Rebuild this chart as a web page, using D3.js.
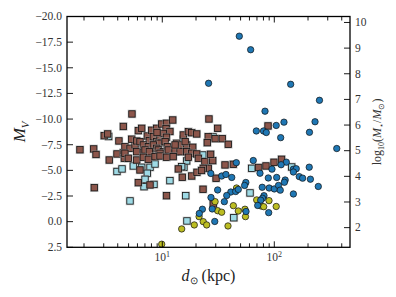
<!DOCTYPE html>
<html>
<head>
<meta charset="utf-8">
<script src="https://cdn.jsdelivr.net/npm/d3@7"></script>
<style>
  html, body { margin: 0; padding: 0; background: #fff; }
  svg { display: block; }
</style>
</head>
<body>
<svg id="chart"></svg>
<script>
// [distance kpc, M_V]
const brownSquares = [
  [1.84,-7.01],[2.44,-7.09],[2.56,-6.55],[2.47,-3.31],[3.03,-8.38],[3.25,-8.55],[3.36,-6.01],[3.94,-6.60],
  [4.10,-7.87],[4.49,-9.28],[4.49,-6.73],[4.58,-6.18],[5.36,-10.50],[4.64,-7.31],[5.15,-7.15],[5.71,-7.48],
  [5.33,-8.04],[5.91,-7.87],[6.11,-8.87],[6.55,-9.10],[7.35,-8.35],[7.66,-7.89],[8.04,-8.91],[8.91,-9.10],
  [8.32,-8.28],[8.91,-7.80],[9.54,-8.13],[9.88,-9.52],[10.9,-9.59],[12.4,-9.91],[10.8,-9.08],[11.7,-8.79],
  [10.2,-8.60],[10.9,-8.23],[9.88,-7.70],[9.21,-7.64],[10.6,-7.80],[13.4,-7.64],[15.4,-8.45],[17.1,-8.77],
  [18.3,-8.67],[20.3,-8.55],[14.9,-7.48],[16.5,-7.48],[16.0,-7.80],[18.7,-7.25],[6.32,-7.80],[6.77,-7.48],
  [7.50,-7.31],[8.32,-7.48],[8.91,-7.15],[9.21,-6.99],[10.2,-6.82],[11.1,-7.31],[11.3,-6.99],[13.0,-6.99],
  [14.4,-6.82],[13.0,-7.48],[4.64,-6.67],[5.91,-6.82],[6.77,-6.76],[7.77,-6.67],[9.54,-6.67],[7.01,-6.99],
  [7.66,-6.82],[4.97,-6.18],[5.91,-6.01],[6.77,-6.28],[7.50,-6.08],[8.61,-6.34],[9.54,-6.40],[10.9,-6.28],
  [16.5,-6.82],[18.3,-6.67],[20.3,-6.60],[17.1,-6.28],[21.0,-6.18],[24.0,-5.85],[28.2,-5.95],[27.0,-6.57],
  [26.1,-10.01],[31.2,-9.10],[25.7,-8.28],[29.6,-8.09],[34.3,-8.09],[25.2,-7.70],[38.8,-7.54],[36.3,-5.53],
  [43.1,-5.59],[25.7,-5.20],[23.2,-5.20],[6.32,-5.04],[13.9,-5.14],[15.1,-4.33],[18.3,-4.45],[20.4,-4.81],
  [22.4,-4.99],[6.11,-3.80],[7.77,-3.58],[10.9,-2.53],[30.2,-4.23],[23.1,-3.16],[28.5,-1.73],[72.3,-5.28],
  [84.3,-5.43],[99.4,-5.79],[116,-6.08],[87.9,-9.33],[12.5,-6.34],[8.97,-8.69]
];

const cyanSquares = [
  [3.32,-8.30],[3.94,-4.89],[4.37,-5.14],[5.51,-5.43],[6.55,-5.30],[7.77,-5.30],[8.61,-5.62],[7.35,-4.72],
  [7.01,-4.13],[8.43,-3.63],[6.87,-3.41],[11.7,-4.00],[15.6,-5.30],[16.5,-5.92],[5.15,-2.02],[16.2,-2.53],
  [16.6,-0.07],[23.0,-6.50],[28.4,-8.26],[14.9,-5.36],[15.4,-8.03],[13.1,-6.82],[62.8,-5.20],[143,-5.33],
  [43.5,-0.38],[60.7,-2.80]
];

const blueCircles = [
  [48.7,-18.08],[61.5,-16.76],[25.9,-13.49],[140,-13.39],[253,-11.83],[82.6,-10.77],[231,-9.74],[69.1,-8.84],
  [80.1,-8.84],[84.8,-8.69],[104,-9.38],[122,-9.70],[206,-8.71],[114,-8.19],[361,-7.13],[64.9,-5.96],
  [45.8,-5.75],[128,-5.80],[115,-5.55],[95.3,-5.12],[74.5,-4.72],[148,-5.11],[157,-5.16],[148,-4.84],
  [205,-5.31],[167,-4.39],[179,-4.24],[210,-4.14],[247,-3.43],[27.1,-4.70],[33.9,-4.45],[37.0,-4.60],
  [41.7,-4.31],[88.4,-4.26],[105,-4.31],[125,-4.06],[123,-3.84],[78.0,-3.35],[90.0,-3.28],[100,-3.19],
  [109,-3.53],[113,-3.07],[148,-2.70],[31.2,-3.09],[40.9,-2.89],[45.2,-2.94],[47.7,-3.14],[55.7,-3.82],
  [54.3,-3.53],[27.2,-2.36],[37.6,-2.55],[35.8,-1.95],[80.9,-2.53],[78.5,-2.28],[75.6,-2.09],[71.1,-1.58],
  [89.1,-0.88],[55.9,-0.99],[22.8,-1.21],[21.4,-0.80],[29.4,-0.02],[27.9,-1.24]
];

const yellowCircles = [
  [9.88,2.20],[14.9,0.71],[19.3,0.32],[21.3,-0.49],[23.2,0.00],[24.9,0.32],[29.6,-1.95],[31.2,-1.07],
  [33.9,-0.92],[38.6,0.42],[43.1,-1.56],[47.7,-1.04],[54.7,-1.21],[55.3,-0.49],[46.0,-3.28],[69.6,-2.12],
  [76.1,-1.53],[80.4,-1.46],[89.7,-2.05],[104,-1.48]
];

const mvTicks = [-20, -17.5, -15, -12.5, -10, -7.5, -5, -2.5, 0, 2.5];
const massTicks = [2, 3, 4, 5, 6, 7, 8, 9, 10];
const sunMV = 4.83, massToLight = 2;

const width = 396, height = 297;
const margin = { top: 16.5, right: 46, bottom: 49.7, left: 67 };
const innerWidth = width - margin.left - margin.right;
const innerHeight = height - margin.top - margin.bottom;

const svg = d3.select("#chart")
  .attr("width", width).attr("height", height)
  .attr("viewBox", `0 0 ${width} ${height}`)
  .style("font-family", "'Liberation Serif', serif");

const x = d3.scaleLog().domain([1.41, 474]).range([0, innerWidth]);
const y = d3.scaleLinear().domain([2.5, -20]).range([innerHeight, 0]);
const mass = d3.scaleLinear()
  .domain(y.domain().map(mv => 0.4 * (sunMV - mv) + Math.log10(massToLight)))
  .range(y.range());

const g = svg.append("g").attr("transform", `translate(${margin.left},${margin.top})`);
const pts = g.append("g");

function squares(data, color) {
  const s = 6.4;
  const grp = pts.append("g").selectAll("g").data(data).join("g")
    .attr("transform", d => `translate(${x(d[0])},${y(d[1])})`);
  grp.append("rect")
    .attr("x", -s / 2 - 1.1).attr("y", -s / 2 - 1.1)
    .attr("width", s + 2.2).attr("height", s + 2.2)
    .attr("fill", "#9a9a9a").attr("opacity", 0.55);
  grp.append("rect")
    .attr("x", -s / 2).attr("y", -s / 2).attr("width", s).attr("height", s)
    .attr("fill", color).attr("stroke", "#111").attr("stroke-width", 0.8);
}

function circles(data, color) {
  pts.append("g").selectAll("circle").data(data).join("circle")
    .attr("cx", d => x(d[0])).attr("cy", d => y(d[1]))
    .attr("r", 3.2)
    .attr("fill", color).attr("stroke", "#111").attr("stroke-width", 0.7);
}

squares(cyanSquares, "#9edae5");
squares(brownSquares, "#8c564b");
circles(yellowCircles, "#bcbd22");
circles(blueCircles, "#1f77b4");

// ticks, all pointing inwards
const xt = x.ticks();
const isMajor = v => Math.abs(Math.log10(v) - Math.round(Math.log10(v))) < 1e-6;
const tickG = g.append("g").attr("stroke", "#000").attr("stroke-width", 0.9);
xt.forEach(v => {
  const len = isMajor(v) ? 6 : 4;
  tickG.append("line").attr("x1", x(v)).attr("x2", x(v)).attr("y1", innerHeight).attr("y2", innerHeight - len);
  tickG.append("line").attr("x1", x(v)).attr("x2", x(v)).attr("y1", 0).attr("y2", len);
});
mvTicks.forEach(v => {
  tickG.append("line").attr("x1", 0).attr("x2", 6).attr("y1", y(v)).attr("y2", y(v));
});
massTicks.forEach(v => {
  tickG.append("line").attr("x1", innerWidth).attr("x2", innerWidth - 6).attr("y1", mass(v)).attr("y2", mass(v));
});

// tick labels
const fmt = d3.format(".1f");
g.append("g").selectAll("text").data(mvTicks).join("text")
  .attr("x", -5).attr("y", d => y(d) + 3.8)
  .attr("text-anchor", "end").attr("font-size", 11.5).attr("fill", "#333")
  .text(d => fmt(d));

g.append("g").selectAll("text").data(massTicks).join("text")
  .attr("x", innerWidth + 5).attr("y", d => mass(d) + 3.8)
  .attr("font-size", 11.5).attr("fill", "#333")
  .text(d => d);

const xl = g.append("g").selectAll("text").data(xt.filter(isMajor)).join("text")
  .attr("x", d => x(d)).attr("y", innerHeight + 14)
  .attr("text-anchor", "middle").attr("font-size", 11.5).attr("fill", "#333");
xl.append("tspan").text("10");
xl.append("tspan").attr("dy", -4).attr("font-size", 8).text(d => Math.round(Math.log10(d)));

// frame
g.append("rect").attr("width", innerWidth).attr("height", innerHeight)
  .attr("fill", "none").attr("stroke", "#000").attr("stroke-width", 1.3);

// axis labels
const xlab = svg.append("text")
  .attr("x", margin.left + innerWidth / 2).attr("y", 281)
  .attr("text-anchor", "middle").attr("font-size", 16).attr("fill", "#222");
xlab.append("tspan").attr("font-style", "italic").text("d");
xlab.append("tspan").attr("dy", 3).attr("font-size", 10).text("⊙");
xlab.append("tspan").attr("dy", -3).text(" (kpc)");

const ylab = svg.append("text")
  .attr("transform", `translate(25,${margin.top + innerHeight / 2}) rotate(-90)`)
  .attr("text-anchor", "middle").attr("font-size", 17).attr("fill", "#222");
ylab.append("tspan").attr("font-style", "italic").text("M");
ylab.append("tspan").attr("dy", 3.5).attr("font-size", 11).attr("font-style", "italic").text("V");

const rlab = svg.append("text")
  .attr("transform", `translate(381,${margin.top + innerHeight / 2}) rotate(-90)`)
  .attr("text-anchor", "middle").attr("font-size", 12).attr("fill", "#333");
rlab.append("tspan").text("log");
rlab.append("tspan").attr("dy", 2.5).attr("font-size", 8).text("10");
rlab.append("tspan").attr("dy", -2.5).text("(");
rlab.append("tspan").attr("font-style", "italic").text("M");
rlab.append("tspan").attr("dy", 2.5).attr("font-size", 8).text("⋆");
rlab.append("tspan").attr("dy", -2.5).text("/");
rlab.append("tspan").attr("font-style", "italic").text("M");
rlab.append("tspan").attr("dy", 2.5).attr("font-size", 8).text("⊙");
rlab.append("tspan").attr("dy", -2.5).text(")");
</script>
</body>
</html>
